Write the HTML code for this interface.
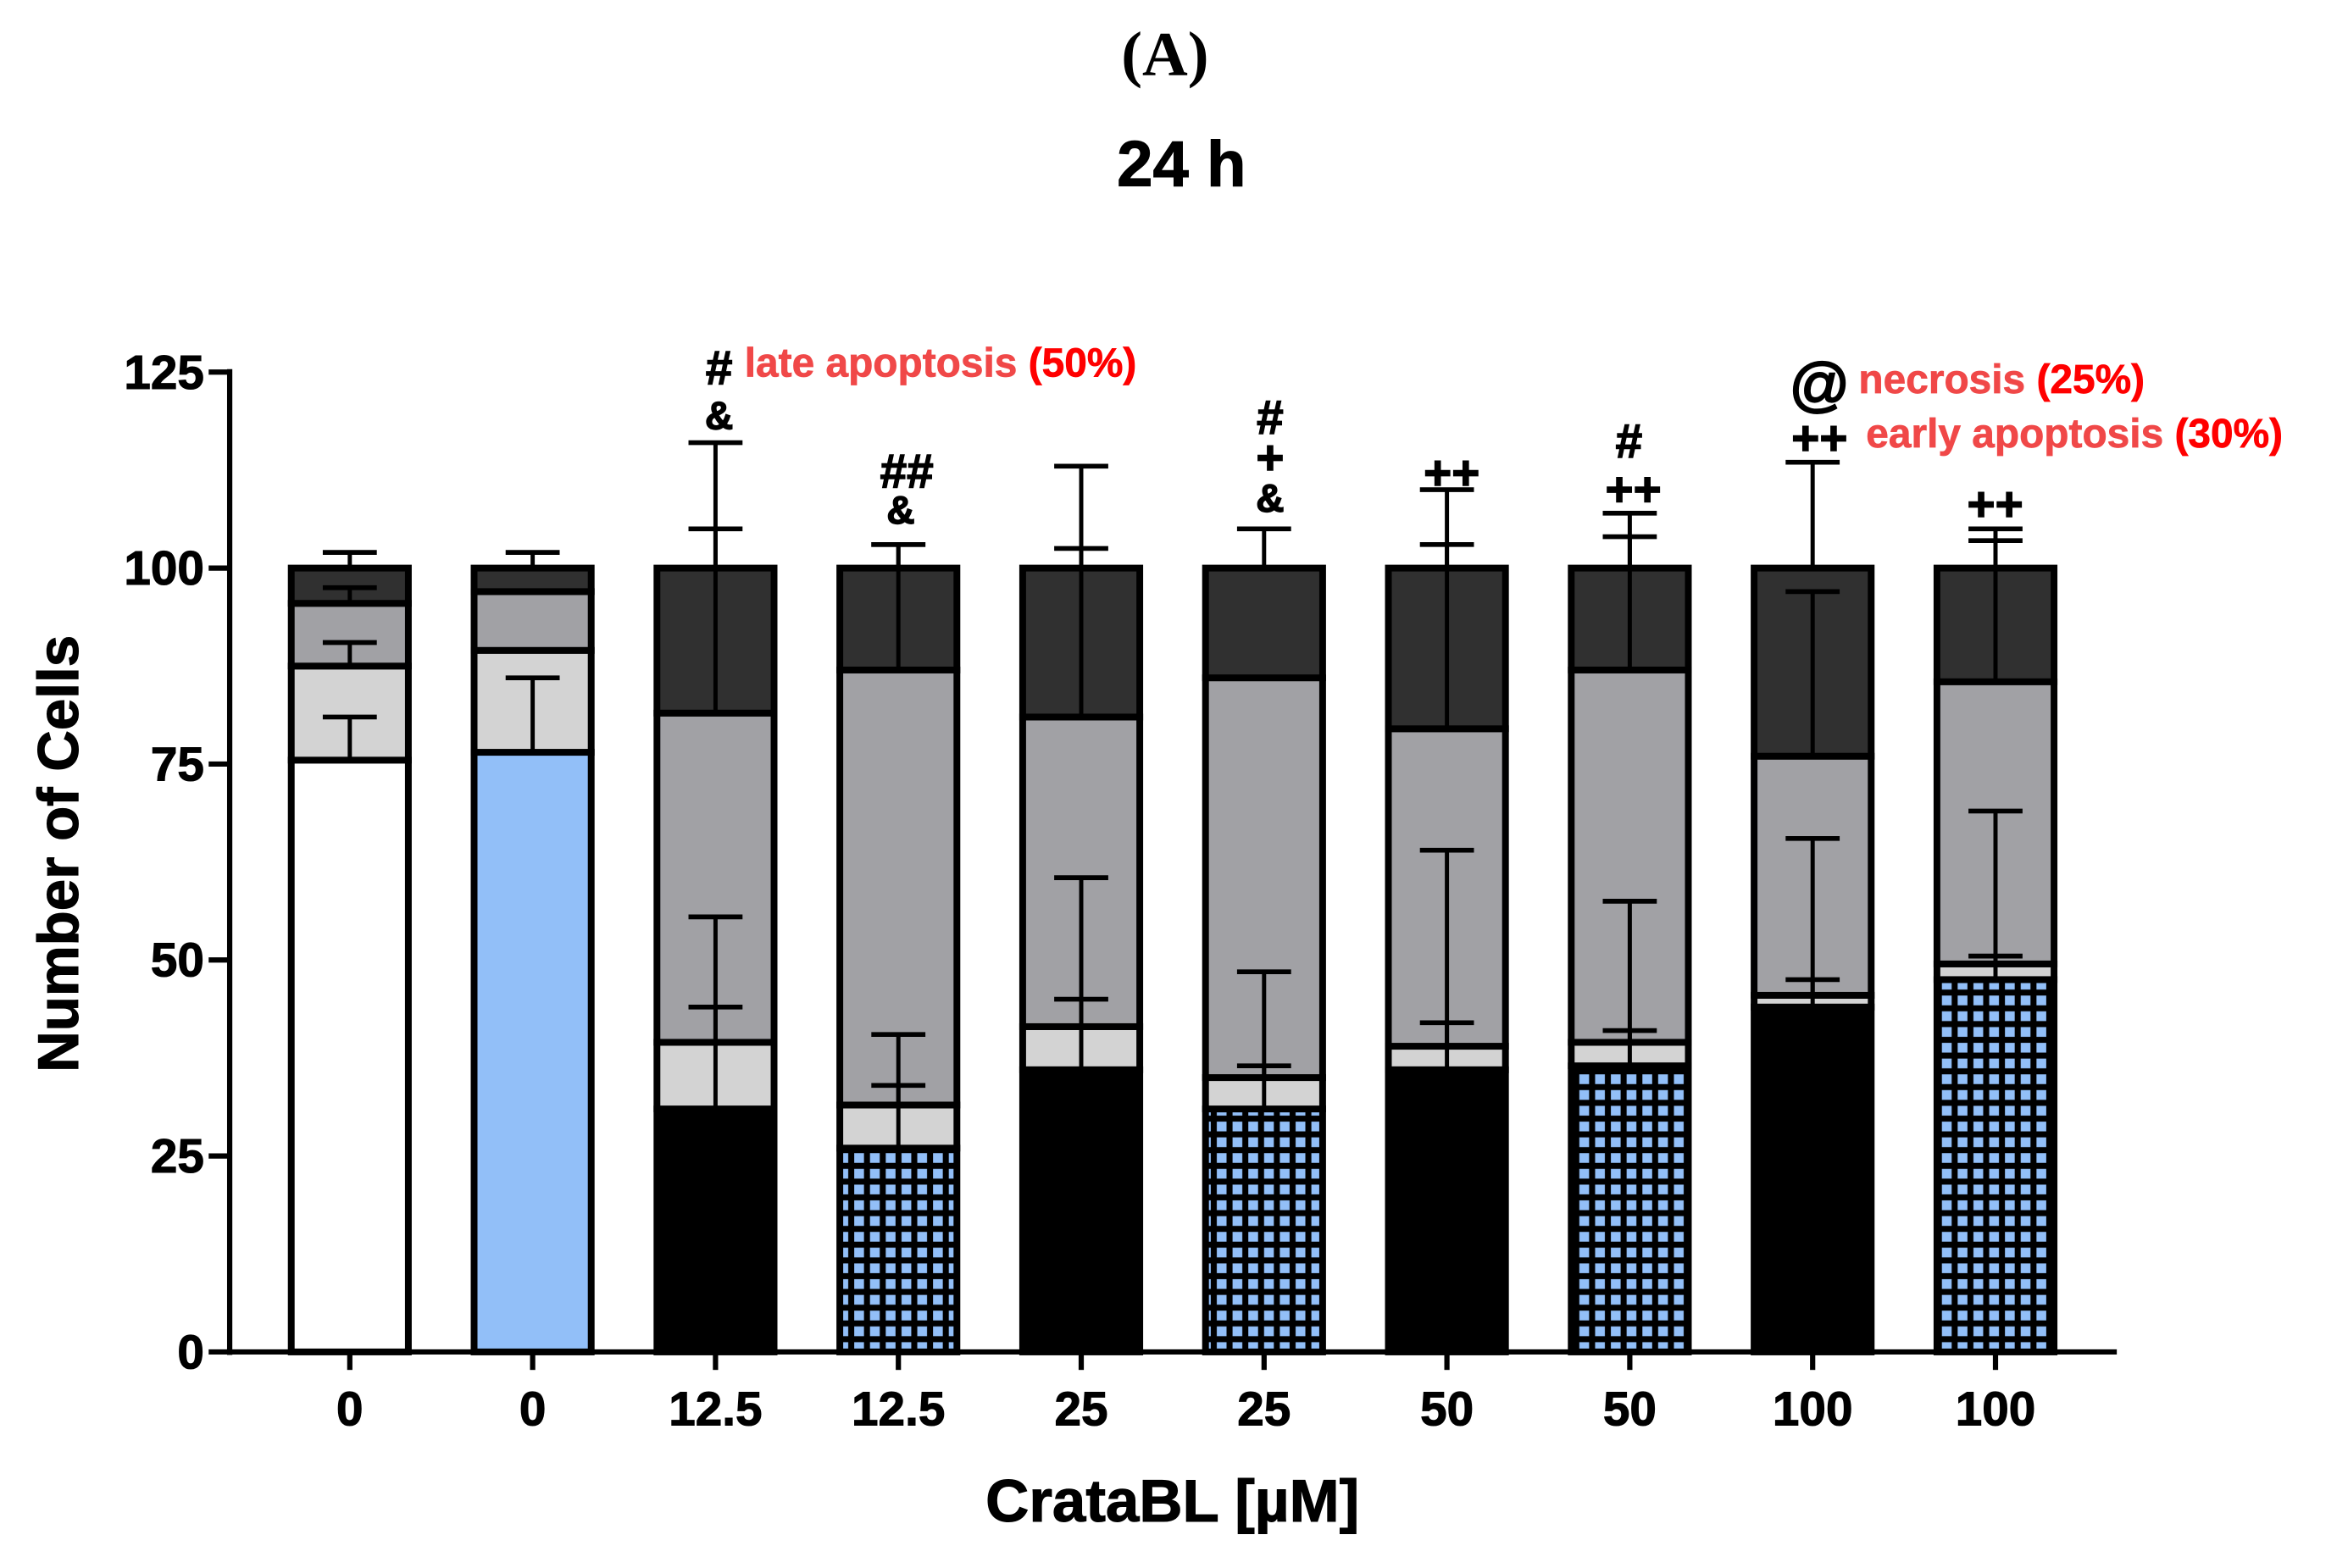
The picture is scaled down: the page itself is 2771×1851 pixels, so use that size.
<!DOCTYPE html>
<html><head><meta charset="utf-8"><style>html,body{margin:0;padding:0;background:#fff}svg{display:block}</style></head>
<body>
<svg id="chart" width="2771" height="1851" viewBox="0 0 1564 1045" preserveAspectRatio="none" xmlns="http://www.w3.org/2000/svg" font-family="'Liberation Sans', Arial, sans-serif">
<defs>
<pattern id="grid" width="10.5" height="10.5" patternUnits="userSpaceOnUse">
<rect width="10.5" height="10.5" fill="#000"/><rect x="2" y="2" width="6.5" height="6.5" fill="#92bff8"/>
</pattern>
</defs>
<text x="776" y="50" text-anchor="middle" font-family="'Liberation Serif', serif" font-weight="bold" font-size="42">(A)</text>
<text x="787" y="124" text-anchor="middle" font-weight="bold" font-size="43" stroke="#000" stroke-width="0.6">24 h</text>
<text transform="translate(52,569) rotate(-90)" text-anchor="middle" font-weight="bold" font-size="38" stroke="#000" stroke-width="0.6">Number of Cells</text>
<text x="781" y="1014" text-anchor="middle" font-weight="bold" font-size="40" stroke="#000" stroke-width="0.6">CrataBL [µM]</text>
<g id="bars"></g>
<g id="axes"></g>
<g font-weight="bold" text-anchor="middle" font-size="32" stroke="#000" stroke-width="0.8">
<text x="479" y="256">#</text><text x="479" y="286" font-size="26">&amp;</text>
<text x="604" y="325">##</text><text x="600" y="349" font-size="26">&amp;</text>
<text x="846" y="289">#</text><text x="846" y="316">+</text><text x="846" y="341" font-size="26">&amp;</text>
<text x="967" y="326">++</text>
<text x="1085" y="305">#</text><text x="1088" y="337">++</text>
<text x="1212" y="270" font-size="40" font-weight="normal" stroke-width="1.2">@</text><text x="1212" y="303">++</text>
<text x="1329" y="347">++</text>
</g>
<g font-weight="bold" font-size="27" stroke-width="0.4">
<text x="496" y="251" fill="#f04848" stroke="#f04848">late apoptosis <tspan fill="#ff0000" stroke="#ff0000">(50%)</tspan></text>
<text x="1238" y="262" fill="#f04848" stroke="#f04848">necrosis <tspan fill="#ff0000" stroke="#ff0000">(25%)</tspan></text>
<text x="1243" y="298" fill="#f04848" stroke="#f04848">early apoptosis <tspan fill="#ff0000" stroke="#ff0000">(30%)</tspan></text>
</g>
</svg>
<script>
const categories = ["0","0","12.5","12.5","25","25","50","50","100","100"];
const viable   = [75.5,76.5,31,26,36,31,36,36.5,44,47.5];
const early    = [12,13,8.5,5.5,5.5,4,3,3,1.5,2];
const late     = [8,7.5,42,55.5,39.5,51,40.5,47.5,30.5,36];
const necrosis = [4.5,3,18.5,13,19,14,20.5,13,24,14.5];
const sdViable   = [5.5,9.5,13,8,9,5.5,6,4.5,3.5,3];
const sdEarly    = [3,0,16,9,19,13.5,25,18,20,19.5];
const sdLate     = [2,0,23.5,16,21.5,0,23.5,17,21,18];
const sdNecrosis = [2,2,16,3,13,5,10,7,13.5,5];
const yTicks = [0,25,50,75,100,125];
const baseFills = ["#ffffff","#92bff8","#000","url(#grid)","#000","url(#grid)","#000","url(#grid)","#000","url(#grid)"];

const NS="http://www.w3.org/2000/svg";
const y0=901, yTop=248, yMax=125;
function yScale(v){return y0-(v/yMax)*(y0-yTop);}
function xScale(i){return 233+i*121.8;}
const BW=78;
function mk(tag,attrs,parent){const e=document.createElementNS(NS,tag);for(const k in attrs)e.setAttribute(k,attrs[k]);parent.appendChild(e);return e;}
const bars=document.getElementById('bars'), axes=document.getElementById('axes');
const segNames=["viable","early-apoptosis","late-apoptosis","necrosis"];
for(let i=0;i<categories.length;i++){
  const g=mk('g',{},bars);
  
  
  const vals=[viable[i],early[i],late[i],necrosis[i]];
  const sds=[sdViable[i],sdEarly[i],sdLate[i],sdNecrosis[i]];
  const fills=[baseFills[i],"#d3d3d3","#a1a1a5","#303030"];
  let cum=0; const tops=[];
  for(let s=0;s<4;s++){
    const b=cum, t=cum+vals[s]; cum=t; tops.push(t);
    const r=mk('rect',{x:xScale(i)-BW/2,y:yScale(t),width:BW,height:yScale(b)-yScale(t),fill:fills[s],stroke:"#000","stroke-width":4.5},g);
    
    
  }
  for(let s=0;s<4;s++){
    if(sds[s]<=0) continue;
    const cx=xScale(i), yt=yScale(tops[s]), yc=yScale(tops[s]+sds[s]);
    const l=mk('line',{x1:cx,x2:cx,y1:yt,y2:yc,stroke:"#000","stroke-width":2.8},g);
    
    
    const c=mk('line',{x1:cx-18,x2:cx+18,y1:yc,y2:yc,stroke:"#000","stroke-width":3.2},g);
    
    
  }
  const tk=mk('line',{x1:xScale(i),x2:xScale(i),y1:y0,y2:y0+12,stroke:"#000","stroke-width":3.5},axes);
  
  
  const lb=mk('text',{x:xScale(i),y:950,"text-anchor":"middle","font-weight":"bold","font-size":32,stroke:"#000","stroke-width":0.6},axes);
  lb.textContent=categories[i];
  
  
}
const ya=mk('line',{x1:153,x2:153,y1:yTop-2,y2:y0+2,stroke:"#000","stroke-width":3.5},axes);


const xa=mk('line',{x1:151,x2:1410,y1:y0,y2:y0,stroke:"#000","stroke-width":3.5},axes);


yTicks.forEach(v=>{
  const t=mk('line',{x1:139,x2:153,y1:yScale(v),y2:yScale(v),stroke:"#000","stroke-width":3.5},axes);
  
  
  const l=mk('text',{x:136,y:yScale(v)+11,"text-anchor":"end","font-weight":"bold","font-size":32,stroke:"#000","stroke-width":0.6},axes);
  l.textContent=v;
  
  
});
</script>
</body></html>
